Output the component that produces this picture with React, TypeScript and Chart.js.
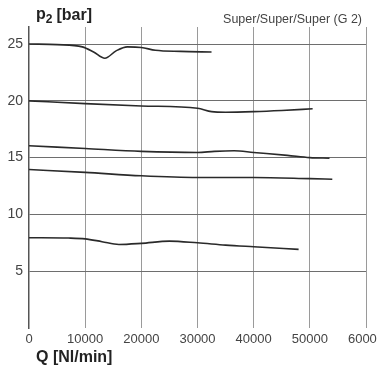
import React, { useEffect, useRef } from "react";
import { Chart, registerables } from "chart.js";

Chart.register(...registerables);

// Flow Q [Nl/min] and outlet pressure p2 [bar] for each curve
const q25 = [0, 5000, 9500, 11500, 13500, 15500, 17500, 20000, 22500, 27000, 32500];
const p25 = [25.0, 24.95, 24.75, 24.3, 23.75, 24.4, 24.75, 24.7, 24.45, 24.35, 24.3];

const q20 = [0, 10000, 20000, 30000, 32500, 35000, 40000, 45000, 50500];
const p20 = [20.0, 19.75, 19.55, 19.35, 19.05, 19.0, 19.05, 19.15, 19.3];

const q16 = [0, 10000, 20000, 30000, 33000, 36500, 40000, 46000, 50000, 53500];
const p16 = [16.05, 15.8, 15.55, 15.45, 15.55, 15.6, 15.45, 15.2, 15.0, 14.95];

const q14 = [0, 10000, 20000, 30000, 40000, 50000, 54000];
const p14 = [13.95, 13.7, 13.4, 13.25, 13.25, 13.15, 13.1];

const q8 = [0, 7000, 10000, 13000, 16000, 20000, 25000, 30000, 35000, 40000, 48000];
const p8 = [7.95, 7.92, 7.85, 7.6, 7.35, 7.45, 7.65, 7.5, 7.3, 7.15, 6.92];

const xTicks = [0, 10000, 20000, 30000, 40000, 50000, 60000];
const yTicks = [0, 5, 10, 15, 20, 25];

const yTitleMain = "p";
const yTitleSub = "2";
const yTitleUnit = "[bar]";
const xTitle = "Q [Nl/min]";
const chartNote = "Super/Super/Super (G 2)";

const FONT = "'Liberation Sans', Arial, Helvetica, sans-serif";

const pts = (qs: number[], ps: number[]) => qs.map((q, i) => ({ x: q, y: ps[i] }));

const textPlugin = {
  id: "textPlugin",
  afterDraw(chart: any) {
    const ctx = chart.ctx;
    ctx.save();
    ctx.fillStyle = "#222";
    ctx.textBaseline = "alphabetic";
    ctx.textAlign = "left";
    ctx.font = `bold 16px ${FONT}`;
    let x = 36;
    ctx.fillText(yTitleMain, x, 19);
    x += ctx.measureText(yTitleMain).width;
    ctx.font = `bold 12px ${FONT}`;
    ctx.fillText(yTitleSub, x, 23);
    x += ctx.measureText(yTitleSub).width + 4;
    ctx.font = `bold 16px ${FONT}`;
    ctx.fillText(yTitleUnit, x, 20);
    ctx.fillText(xTitle, 36, 362);
    ctx.fillStyle = "#444";
    ctx.font = `12.5px ${FONT}`;
    ctx.textAlign = "right";
    ctx.fillText(chartNote, 362, 23);
    ctx.restore();
  },
};

export default function App() {
  const ref = useRef<HTMLCanvasElement>(null);
  useEffect(() => {
    if (!ref.current) return;
    const ds = (qs: number[], ps: number[]) => ({
      data: pts(qs, ps),
      borderColor: "#2a2a2a",
      borderWidth: 1.6,
      pointRadius: 0,
      tension: 0.4,
      cubicInterpolationMode: "monotone" as const,
      fill: false,
    });
    const chart = new Chart(ref.current, {
      type: "line",
      data: {
        datasets: [ds(q25, p25), ds(q20, p20), ds(q16, p16), ds(q14, p14), ds(q8, p8)],
      },
      plugins: [textPlugin],
      options: {
        responsive: false,
        animation: false,
        events: [],
        layout: { padding: { left: 0, right: 11, top: 27, bottom: 0 } },
        plugins: { legend: { display: false }, tooltip: { enabled: false } },
        scales: {
          x: {
            type: "linear",
            min: 0,
            max: 60000,
            afterBuildTicks: (s: any) => {
              s.ticks = xTicks.map((v) => ({ value: v }));
            },
            afterFit: (s: any) => {
              s.height = 49;
              s.paddingLeft = 0;
              s.paddingRight = 0;
            },
            border: { display: false },
            grid: {
              drawTicks: false,
              color: (c: any) => (c.tick && c.tick.value === 0 ? "rgba(0,0,0,0)" : "#9a9a9a"),
              lineWidth: 1,
            },
            ticks: {
              padding: 4,
              maxRotation: 0,
              autoSkip: false,
              color: "#444",
              font: { family: FONT, size: 13 },
              callback: (v: any) => String(v),
            },
          },
          y: {
            type: "linear",
            min: 0,
            max: 26.5,
            afterBuildTicks: (s: any) => {
              s.ticks = yTicks.map((v) => ({ value: v }));
            },
            afterFit: (s: any) => {
              s.width = 29;
              s.paddingTop = 0;
              s.paddingBottom = 0;
            },
            border: { display: true, color: "#555", width: 1.5 },
            grid: {
              drawTicks: false,
              color: (c: any) => (c.tick && c.tick.value === 0 ? "rgba(0,0,0,0)" : "#6e6e6e"),
              lineWidth: 1,
            },
            ticks: {
              padding: 6,
              color: "#444",
              font: { family: FONT, size: 14 },
              callback: (v: any) => (v === 0 ? "" : String(v)),
            },
          },
        },
      },
    });
    return () => chart.destroy();
  }, []);
  return (
    <div style={{ position: "fixed", left: 0, top: 0, width: 377, height: 377, background: "#fff" }}>
      <canvas ref={ref} width={377} height={377} />
    </div>
  );
}
